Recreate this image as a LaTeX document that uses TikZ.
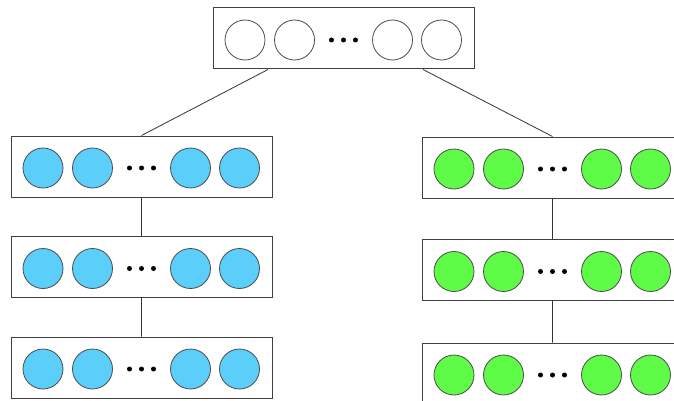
\documentclass[tikz,border=0pt]{standalone}
\usetikzlibrary{calc}
\definecolor{blueunit}{RGB}{92,206,250}
\definecolor{greenunit}{RGB}{94,252,70}

\begin{document}
\begin{tikzpicture}[x=1pt,y=-1pt]

        % Setup the styles for the layers and their units
        \tikzset{layer style/.style={draw=black!75,
                                     line width=1pt,
                                     minimum width=261pt,
                                     minimum height=61pt,
                                     inner sep=0pt},
                 unit style/.style={circle,
                                    draw=black!70,
                                    line width=0.8pt,
                                    minimum size=40pt,
                                    inner sep=0pt},
                 dot style/.style={circle,
                                   fill=black,
                                   minimum size=5pt,
                                   inner sep=0pt},
                 link style/.style={draw=black!80,
                                    line width=0.8pt}}

        \clip (0, 0) rectangle (674, 401);

        % Draw the layers
        \node[layer style] at (343.5, 38.5)  (top) {};
        \node[layer style] at (141.5, 166.5) (a1)  {};
        \node[layer style] at (141.5, 267)   (a2)  {};
        \node[layer style] at (141.5, 367.5) (a3)  {};
        \node[layer style] at (552.5, 167.5) (b1)  {};
        \node[layer style] at (552.5, 270)   (b2)  {};
        \node[layer style] at (552.5, 373.5) (b3)  {};

        % Fill each layer with units and dots
        \foreach \lay/\col in {top/white, a1/blueunit, a2/blueunit, a3/blueunit,
                               b1/greenunit, b2/greenunit, b3/greenunit} {
            \foreach \dx [count=\i] in {-98.5, -49, 49, 98}
                \node[unit style, fill=\col] (\lay-u\i) at ($(\lay)+(\dx,1.5)$) {};
            \foreach \dx [count=\i] in {-12, 0, 12}
                \node[dot style] (\lay-d\i) at ($(\lay)+(\dx,1.5)$) {};
        }

        % Connect the layers
        \coordinate (top-l) at ($(top.south)+(-75.5,0)$);
        \coordinate (top-r) at ($(top.south)+(79.5,0)$);
        \draw[link style]
            (top-l) -- (a1.north)
            (top-r) -- (b1.north)
            (a1.south) -- (a2.north)
            (a2.south) -- (a3.north)
            (b1.south) -- (b2.north)
            (b2.south) -- (b3.north)
            ;
\end{tikzpicture}
\end{document}
